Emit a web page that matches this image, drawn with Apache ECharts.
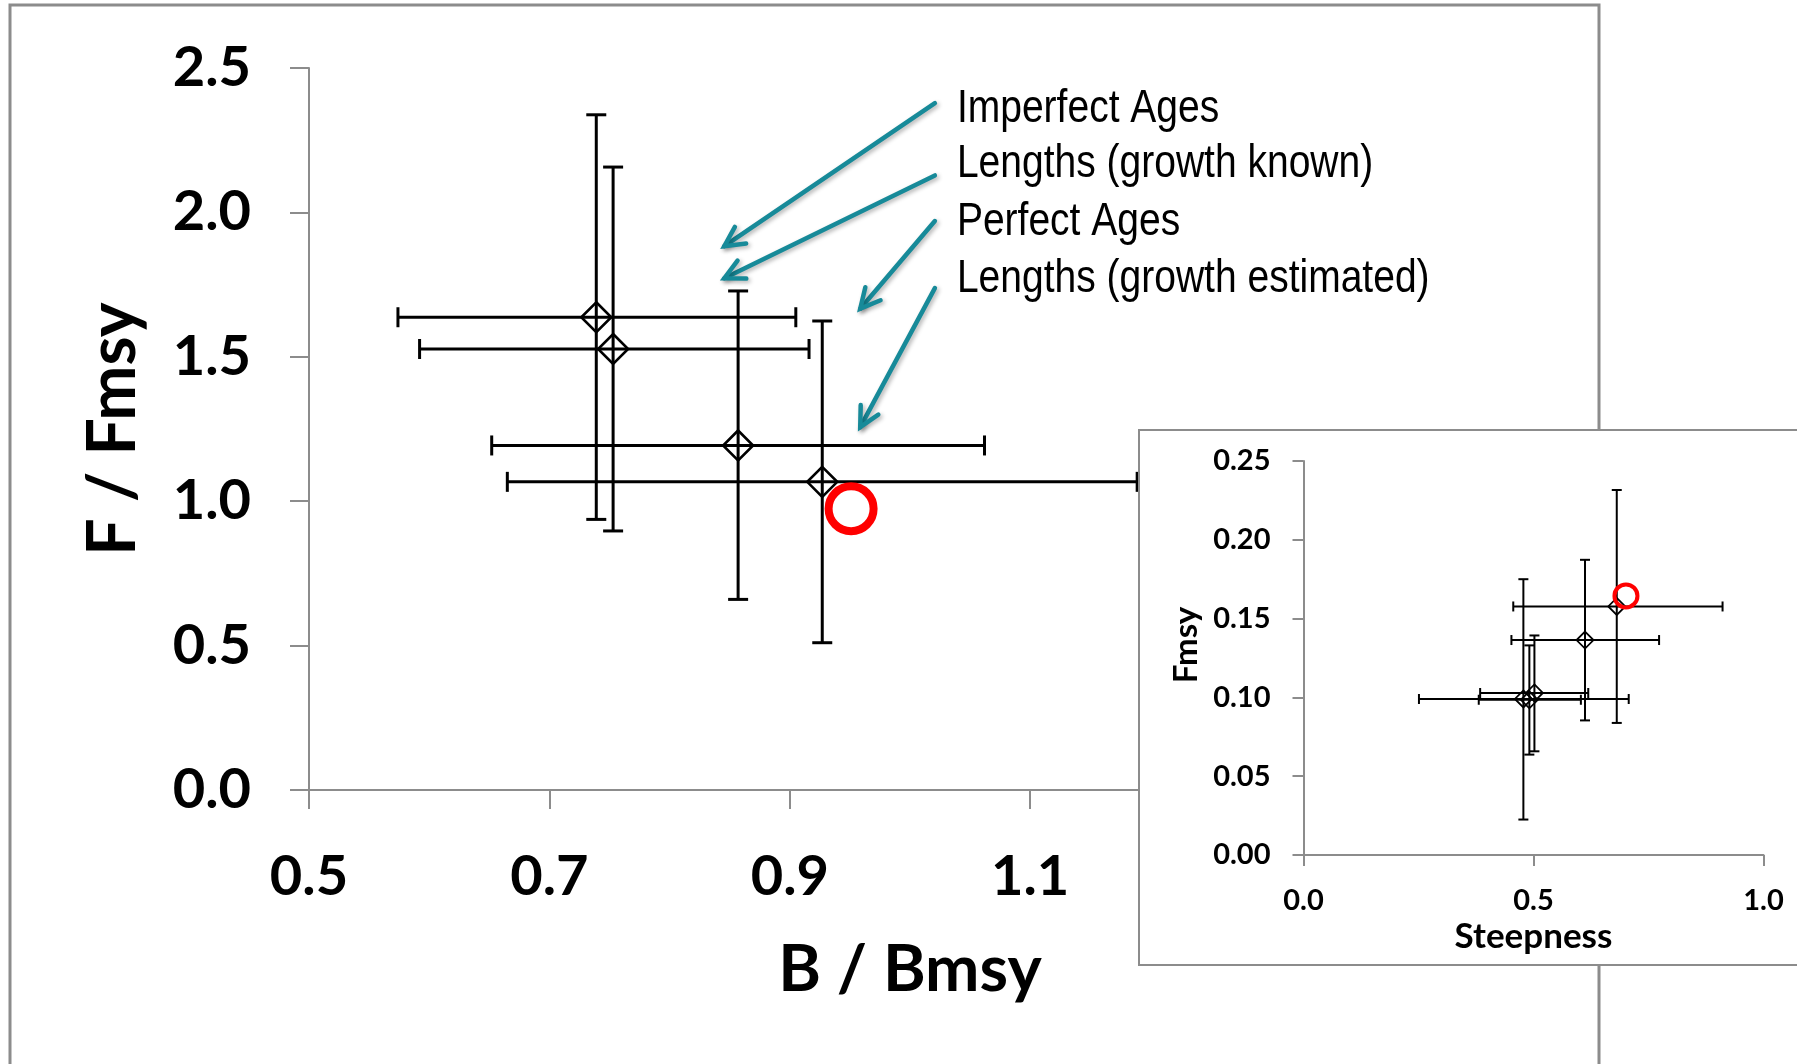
<!DOCTYPE html>
<html><head><meta charset="utf-8">
<script src="https://cdn.jsdelivr.net/npm/echarts@6/dist/echarts.min.js"></script>
<style>html,body{margin:0;padding:0;background:#fff}#c{width:1797px;height:1064px}</style>
</head><body><div id="c"></div>
<script>
// ---- tick values ----
const mainXTicks = [0.5, 0.7, 0.9, 1.1, 1.3, 1.5];
const mainYTicks = [0.0, 0.5, 1.0, 1.5, 2.0, 2.5];
const insetXTicks = [0.0, 0.5, 1.0];
const insetYTicks = [0.00, 0.05, 0.10, 0.15, 0.20, 0.25];

// ---- main chart: B/Bmsy vs F/Fmsy estimates with error bars ----
const mainB    = [0.739, 0.753, 0.857, 0.927];
const mainF    = [1.637, 1.527, 1.193, 1.067];
const mainBLo  = [0.574, 0.592, 0.652, 0.665];
const mainBHi  = [0.905, 0.916, 1.062, 1.189];
const mainFLo  = [0.937, 0.897, 0.660, 0.510];
const mainFHi  = [2.338, 2.157, 1.728, 1.624];
const mainTrue = [0.951, 0.974];

// ---- inset: Steepness vs Fmsy ----
const insetH    = [0.681, 0.612, 0.502, 0.478, 0.491];
const insetFmsy = [0.1577, 0.1364, 0.1028, 0.0990, 0.0985];
const insetHLo  = [0.456, 0.452, 0.384, 0.251, 0.381];
const insetHHi  = [0.911, 0.773, 0.619, 0.707, 0.603];
const insetFLo  = [0.0838, 0.0854, 0.0658, 0.0225, 0.0637];
const insetFHi  = [0.2316, 0.1873, 0.1393, 0.1750, 0.1330];
const insetTrue = [0.701, 0.1644];

// ---- annotations (data coordinates of main chart) ----
const annotLabels = ['Imperfect Ages', 'Lengths (growth known)', 'Perfect Ages', 'Lengths (growth estimated)'];
const annotLabelX = [1.039, 1.039, 1.039, 1.039];
const annotLabelY = [2.3646, 2.174, 1.9723, 1.776];
const arrowFromX = [1.0207, 1.0207, 1.0207, 1.0207];
const arrowFromY = [2.378, 2.128, 1.970, 1.738];
const arrowToX   = [0.8455, 0.8455, 0.9586, 0.9586];
const arrowToY   = [1.883, 1.772, 1.6666, 1.2566];

const GRAY = '#8c8c8c';
const TEAL = '#178a99';
const FONT = 'Lato';

function errData(x, y, xl, xh, yl, yh) {
  return x.map((v, i) => [v, y[i], xl[i], xh[i], yl[i], yh[i]]);
}
function errRender(cap, lw) {
  return function (params, api) {
    const x = api.value(0), y = api.value(1);
    const l = api.coord([api.value(2), y]), r = api.coord([api.value(3), y]);
    const b = api.coord([x, api.value(4)]), t = api.coord([x, api.value(5)]);
    const st = { stroke: '#000', lineWidth: lw };
    const ln = (x1, y1, x2, y2) => ({ type: 'line', shape: { x1, y1, x2, y2 }, style: st });
    return { type: 'group', children: [
      ln(l[0], l[1], r[0], r[1]),
      ln(l[0], l[1] - cap, l[0], l[1] + cap),
      ln(r[0], r[1] - cap, r[0], r[1] + cap),
      ln(b[0], b[1], t[0], t[1]),
      ln(b[0] - cap, b[1], b[0] + cap, b[1]),
      ln(t[0] - cap, t[1], t[0] + cap, t[1])
    ]};
  };
}

const chart = echarts.init(document.getElementById('c'), null, { renderer: 'canvas' });

const axisLine = { lineStyle: { color: GRAY, width: 2 } };

chart.setOption({
  animation: false,
  backgroundColor: '#fff',
  grid: [
    { left: 309, top: 68, width: 1202, height: 722 },
    { left: 1303.5, top: 461, width: 460, height: 394 }
  ],
  xAxis: [
    {
      gridIndex: 0, type: 'value', min: 0.5, max: 1.5, z: 0,
      splitLine: { show: false },
      axisLine: axisLine,
      axisTick: { show: true, length: 19, lineStyle: { color: GRAY, width: 2 }, customValues: mainXTicks },
      axisLabel: { customValues: mainXTicks, formatter: v => v.toFixed(1), fontFamily: FONT, fontWeight: 'bold', fontSize: 56, color: '#000', margin: 59 },
      name: 'B / Bmsy', nameLocation: 'middle', nameGap: 148,
      nameTextStyle: { fontFamily: FONT, fontWeight: 'bold', fontSize: 65, color: '#000' }
    },
    {
      gridIndex: 1, type: 'value', min: 0, max: 1, interval: 0.5, z: 6,
      splitLine: { show: false },
      axisLine: axisLine,
      axisTick: { show: true, length: 11, lineStyle: { color: GRAY, width: 2 } },
      axisLabel: { formatter: v => v.toFixed(1), fontFamily: FONT, fontWeight: 'bold', fontSize: 29, color: '#000', margin: 31 },
      name: 'Steepness', nameLocation: 'middle', nameGap: 64,
      nameTextStyle: { fontFamily: FONT, fontWeight: 'bold', fontSize: 35, color: '#000' }
    }
  ],
  yAxis: [
    {
      gridIndex: 0, type: 'value', min: 0, max: 2.5, interval: 0.5, z: 0,
      splitLine: { show: false },
      axisLine: axisLine,
      axisTick: { show: true, length: 19, lineStyle: { color: GRAY, width: 2 } },
      axisLabel: { formatter: v => v.toFixed(1), fontFamily: FONT, fontWeight: 'bold', fontSize: 56, color: '#000', margin: 58 },
      name: 'F / Fmsy', nameLocation: 'middle', nameGap: 162, nameRotate: 90,
      nameTextStyle: { fontFamily: FONT, fontWeight: 'bold', fontSize: 66, color: '#000' }
    },
    {
      gridIndex: 1, type: 'value', min: 0, max: 0.25, interval: 0.05, z: 6,
      splitLine: { show: false },
      axisLine: axisLine,
      axisTick: { show: true, length: 11, lineStyle: { color: GRAY, width: 2 } },
      axisLabel: { formatter: v => v.toFixed(2), fontFamily: FONT, fontWeight: 'bold', fontSize: 29, color: '#000', margin: 33 },
      name: 'Fmsy', nameLocation: 'middle', nameGap: 101, nameRotate: 90,
      nameTextStyle: { fontFamily: FONT, fontWeight: 'bold', fontSize: 33, color: '#000', padding: [0, 0, 0, 26] }
    }
  ],
  graphic: [
    { type: 'rect', z: -10, silent: true, shape: { x: 10, y: 5, width: 1589, height: 1200 }, style: { fill: 'none', stroke: GRAY, lineWidth: 3 } },
    { type: 'rect', z: 5, silent: true, shape: { x: 1139, y: 430, width: 800, height: 535 }, style: { fill: '#fff', stroke: GRAY, lineWidth: 2 } }
  ],
  series: [
    {
      type: 'custom', xAxisIndex: 0, yAxisIndex: 0, z: 2,
      renderItem: errRender(10, 3),
      encode: { x: [0, 2, 3], y: [1, 4, 5] },
      data: errData(mainB, mainF, mainBLo, mainBHi, mainFLo, mainFHi)
    },
    {
      type: 'scatter', xAxisIndex: 0, yAxisIndex: 0, z: 3,
      symbol: 'diamond', symbolSize: 30,
      itemStyle: { color: 'rgba(0,0,0,0)', borderColor: '#000', borderWidth: 2.6, opacity: 1 },
      data: mainB.map((v, i) => [v, mainF[i]])
    },
    {
      type: 'scatter', xAxisIndex: 0, yAxisIndex: 0, z: 3,
      symbol: 'circle', symbolSize: 45,
      itemStyle: { color: 'rgba(0,0,0,0)', borderColor: '#ff0000', borderWidth: 8, opacity: 1 },
      data: [mainTrue]
    },
    {
      type: 'custom', xAxisIndex: 0, yAxisIndex: 0, z: 3,
      renderItem: function (params, api) {
        const p1 = api.coord([api.value(0), api.value(1)]);
        const p2 = api.coord([api.value(2), api.value(3)]);
        const ang = Math.atan2(p1[1] - p2[1], p1[0] - p2[0]);
        const L = 22, a = 27 * Math.PI / 180;
        const h1 = [p2[0] + L * Math.cos(ang + a), p2[1] + L * Math.sin(ang + a)];
        const h2 = [p2[0] + L * Math.cos(ang - a), p2[1] + L * Math.sin(ang - a)];
        const st = { stroke: TEAL, lineWidth: 4.5, fill: 'none', lineCap: 'round', lineJoin: 'miter',
                     shadowBlur: 4, shadowColor: 'rgba(0,0,0,0.3)', shadowOffsetX: 2, shadowOffsetY: 2 };
        return { type: 'group', children: [
          { type: 'line', shape: { x1: p1[0], y1: p1[1], x2: p2[0], y2: p2[1] }, style: st },
          { type: 'polyline', shape: { points: [h1, p2, h2] }, style: st }
        ]};
      },
      data: arrowFromX.map((v, i) => [v, arrowFromY[i], arrowToX[i], arrowToY[i]])
    },
    {
      type: 'custom', xAxisIndex: 0, yAxisIndex: 0, z: 3,
      renderItem: function (params, api) {
        const c = api.coord([api.value(0), api.value(1)]);
        return { type: 'text', x: c[0], y: c[1] + 2, scaleX: 0.83, style: {
          text: annotLabels[params.dataIndex], fontFamily: '"Liberation Sans", Arial, sans-serif',
          fontSize: 47, fill: '#000', align: 'left', verticalAlign: 'middle' } };
      },
      data: annotLabelX.map((v, i) => [v, annotLabelY[i]])
    },
    {
      type: 'custom', xAxisIndex: 1, yAxisIndex: 1, z: 7,
      renderItem: errRender(5, 2),
      encode: { x: [0, 2, 3], y: [1, 4, 5] },
      data: errData(insetH, insetFmsy, insetHLo, insetHHi, insetFLo, insetFHi)
    },
    {
      type: 'scatter', xAxisIndex: 1, yAxisIndex: 1, z: 8,
      symbol: 'diamond', symbolSize: 17,
      itemStyle: { color: 'rgba(0,0,0,0)', borderColor: '#000', borderWidth: 1.8, opacity: 1 },
      data: insetH.map((v, i) => [v, insetFmsy[i]])
    },
    {
      type: 'scatter', xAxisIndex: 1, yAxisIndex: 1, z: 8,
      symbol: 'circle', symbolSize: 23,
      itemStyle: { color: 'rgba(0,0,0,0)', borderColor: '#ff0000', borderWidth: 4, opacity: 1 },
      data: [insetTrue]
    }
  ]
});
</script>
</body></html>
